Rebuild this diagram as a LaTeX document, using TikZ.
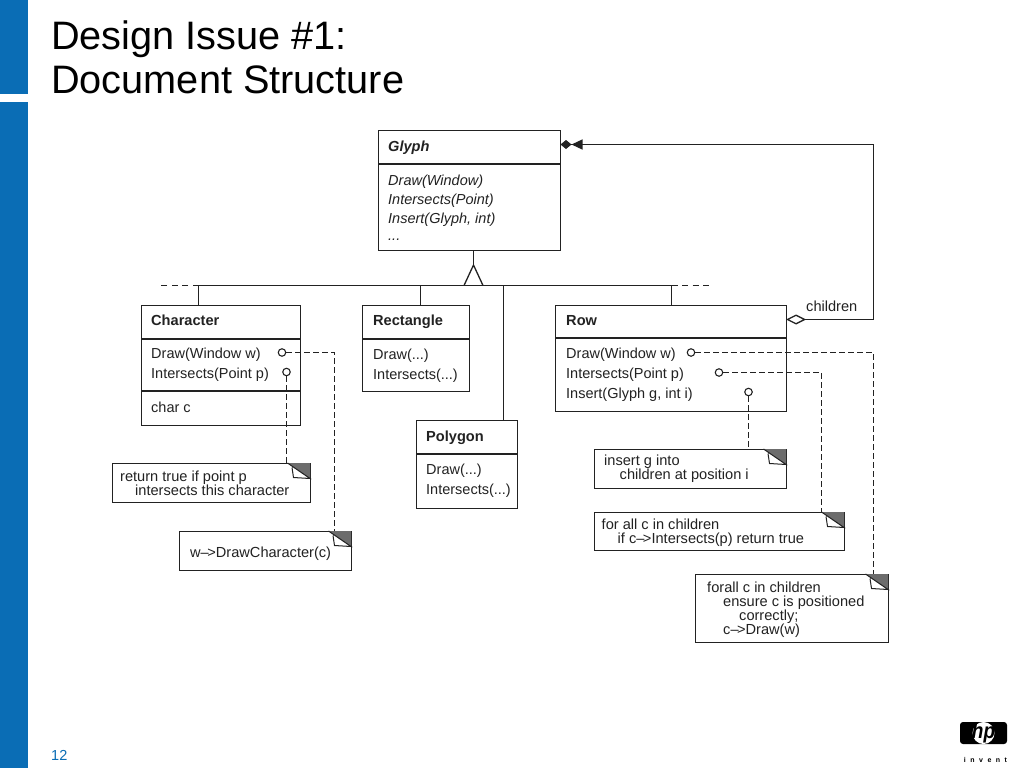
\documentclass[tikz,border=0pt]{standalone}
\usepackage{fontspec}
\setmainfont{Liberation Sans}
\usetikzlibrary{arrows.meta,calc}
\definecolor{hpblue}{HTML}{0A6DB5}
\definecolor{ink}{HTML}{222222}
\newcommand{\ftxt}{\fontsize{14.5}{19.2}\selectfont}
\newcommand{\fnote}{\fontsize{14.6}{14.2}\selectfont\lineskiplimit=-20pt\relax}
\newcommand{\arrw}{\textendash\kern-1.5pt>}
\newcommand{\topline}{\rule{0pt}{11pt}}
\tikzset{
  cls/.style={draw=ink,line width=1.4pt,fill=white,inner sep=0pt,anchor=north west},
  rule/.style={draw=ink,line width=1.3pt},
  link/.style={draw=ink,line width=1.3pt},
  dashlink/.style={draw=ink,line width=1.3pt,dash pattern=on 5.5pt off 3.5pt},
  pin/.style={circle,draw=ink,line width=1.1pt,fill=white,inner sep=0pt,minimum size=7.5pt},
  ttl/.style={inner sep=0pt,anchor=north west,align=left,text=black,font=\fontsize{39.7}{44.5}\selectfont},
  cname/.style={inner sep=0pt,anchor=base west,text=ink,font=\fontsize{14.6}{16}\selectfont\bfseries},
  ops/.style={inner sep=0pt,anchor=north west,align=left,text=ink,font=\ftxt},
  notetxt/.style={inner sep=0pt,anchor=north west,align=left,text=ink,font=\fnote},
}
% #1 name, #2 x1, #3 y1, #4 x2, #5 y2
\newcommand{\umlbox}[5]{%
  \node[cls,minimum width=#4pt-#2pt,minimum height=#5pt-#3pt] (#1) at (#2,#3) {};}
% note with folded corner: #1 name, #2 x1, #3 y1, #4 x2, #5 y2
\newcommand{\notebox}[5]{%
  \umlbox{#1}{#2}{#3}{#4}{#5}
  \fill[gray!85!black] (#4-22.5,#3) -- (#4,#3) -- (#4,#3+15.5) -- cycle;
  \fill[white] (#4-18,#3+5) -- (#4-16.5,#3+14.5) -- (#4-1,#3+15) -- cycle;
  \draw[ink,line width=1pt] (#4-22.5,#3) -- (#4,#3+15.5) -- (#4-16.5,#3+14.5) -- (#4-18,#3+4.5);
}
\begin{document}
\begin{tikzpicture}[x=1pt,y=-1pt]
\useasboundingbox (0,0) rectangle (1024,768);
\fill[white] (0,0) rectangle (1024,768);
% side band
\fill[hpblue] (0,0) rectangle (28,94);
\fill[hpblue] (0,102) rectangle (28,768);
% title and page number
\node[ttl] (title) at (51,20.5) {Design Issue \#1:\\Document Structure};
\node[inner sep=0pt,anchor=base west,text=hpblue,font=\fontsize{14.5}{17}\selectfont] (page) at (51,760) {12};

% classes
\umlbox{glyph}{378}{130}{560}{250}
\draw[rule] (378,164) -- (560,164);
\node[cname,font=\fontsize{14.6}{16}\selectfont\bfseries\itshape] (glyphname) at (388,151) {Glyph};
\node[ops,font=\ftxt\itshape] (glyphops) at (388,171.5) {\strut Draw(Window)\\\strut Intersects(Point)\\\strut Insert(Glyph, int)\\[-2pt]\strut ...};

\umlbox{character}{141}{305}{300}{425}
\draw[rule] (141,339) -- (300,339);
\draw[rule] (141,391) -- (300,391);
\node[cname] (charname) at (151,325) {Character};
\node[ops] (charops) at (151,345) {\strut Draw(Window w)\\[1pt]\strut Intersects(Point p)};
\node[ops] (charattr) at (151,399) {\strut char c};

\umlbox{rectangle}{362}{305}{469}{391}
\draw[rule] (362,339) -- (469,339);
\node[cname] (rectname) at (373,325) {Rectangle};
\node[ops] (rectops) at (373,345.5) {\strut Draw(...)\\[1pt]\strut Intersects(...)};

\umlbox{polygon}{416}{420}{517}{508}
\draw[rule] (416,454) -- (517,454);
\node[cname] (polyname) at (426,441) {Polygon};
\node[ops] (polyops) at (426,461) {\strut Draw(...)\\[.5pt]\strut Intersects(...)};

\umlbox{row}{555}{305}{786}{411}
\draw[rule] (555,338) -- (786,338);
\node[cname] (rowname) at (566,325) {Row};
\node[ops] (rowops) at (566,344.5) {\strut Draw(Window w)\\[1pt]\strut Intersects(Point p)\\[1pt]\strut Insert(Glyph g, int i)};

% inheritance
\coordinate (apex) at (473.5,265);
\coordinate (baseL) at (464,285.5);
\coordinate (baseR) at (483,285.5);
\coordinate (busL) at (198.5,285.5);
\coordinate (busR) at (671.5,285.5);
\coordinate (busM) at (420.5,285.5);
\coordinate (busP) at (503.5,285.5);
\coordinate (dashL) at (158,285.5);
\coordinate (dashR) at (711,285.5);
\draw[link] (apex |- glyph.south) -- (apex);
\draw[link,line join=miter] (baseL) -- (apex) -- (baseR);
\draw[link] (busL) -- (busR);
\draw[dashlink,dash pattern=on 6pt off 4.5pt] (busL) -- (dashL);
\draw[dashlink,dash pattern=on 6pt off 4.5pt] (busR) -- (dashR);
\draw[link] (busL) -- (busL |- character.north);
\draw[link] (busM) -- (busM |- rectangle.north);
\draw[link] (busP) -- (busP |- polygon.north);
\draw[link] (busR) -- (busR |- row.north);

% aggregation
\coordinate (rowport) at (786,319.5);
\coordinate (glyphport) at (560.5,144.5);
\coordinate (turn) at (873.5,319.5);
\draw[link,{Diamond[open,fill=white,length=20pt,width=10pt,line width=1.3pt,sep=0pt]}-{Triangle[length=11pt,width=10pt,sep=0pt]Diamond[length=11pt,width=9pt,sep=0pt]}]
  (rowport) -- (turn) -- (turn |- glyphport) -- (glyphport);
\node[inner sep=0pt,anchor=base west,text=ink,font=\fontsize{14.6}{16}\selectfont] (childlabel) at (806,311) {children};

% notes
\notebox{noteA}{112}{463}{310}{502}
\node[notetxt] (noteAtxt) at (120,470) {\topline return true if point p\\\hspace*{15pt}intersects this character};
\notebox{noteB}{179}{531}{351}{570}
\node[notetxt] (noteBtxt) at (190,546) {\topline w\arrw DrawCharacter(c)};
\notebox{noteC}{594}{449}{786}{488}
\node[notetxt] (noteCtxt) at (604,454) {\topline insert g into\\\hspace*{15.5pt}children at position i};
\notebox{noteD}{594}{512}{844}{550}
\node[notetxt] (noteDtxt) at (601.5,518) {\topline for all c in children\\\hspace*{16pt}if c\arrw Intersects(p) return true};
\notebox{noteE}{695}{574}{888}{642}
\node[notetxt] (noteEtxt) at (707,581) {\topline forall c in children\\\hspace*{16pt}ensure c is positioned\\\hspace*{32pt}correctly;\\\hspace*{16pt}c\arrw Draw(w)};

% note pins
\node[pin] (pinA) at (282,352.5) {};
\node[pin] (pinB) at (286.5,372) {};
\node[pin] (pinC) at (691,352.5) {};
\node[pin] (pinD) at (719,372.5) {};
\node[pin] (pinE) at (748.5,392) {};
\coordinate (topB) at (334.5,531);
\coordinate (topA) at (286.5,463);
\coordinate (topE) at (873.5,574);
\coordinate (topD) at (821.5,512);
\coordinate (topC) at (748.5,449);
\draw[dashlink] (pinA) -- (pinA -| topB) -- (topB);
\draw[dashlink] (pinB) -- (topA);
\draw[dashlink] (pinC) -- (pinC -| topE) -- (topE);
\draw[dashlink] (pinD) -- (pinD -| topD) -- (topD);
\draw[dashlink] (pinE) -- (topC);

% logo
\fill[black,rounded corners=3pt] (960,722) rectangle (1007,744);
\node[circle,fill=white,minimum size=22pt,inner sep=0pt] (hpdisc) at (983.5,733) {};
\node[inner sep=0pt,text=black,font=\fontsize{19}{19}\selectfont\bfseries\itshape,yscale=1.15] (hp) at (hpdisc) {hp};
\node[inner sep=0pt,anchor=base,text=black,font=\fontsize{7}{8}\selectfont\bfseries] (invent) at (985.5,762) {i\hspace{4.5pt}n\hspace{4.5pt}v\hspace{4.5pt}e\hspace{4.5pt}n\hspace{4.5pt}t};
\end{tikzpicture}
\end{document}
